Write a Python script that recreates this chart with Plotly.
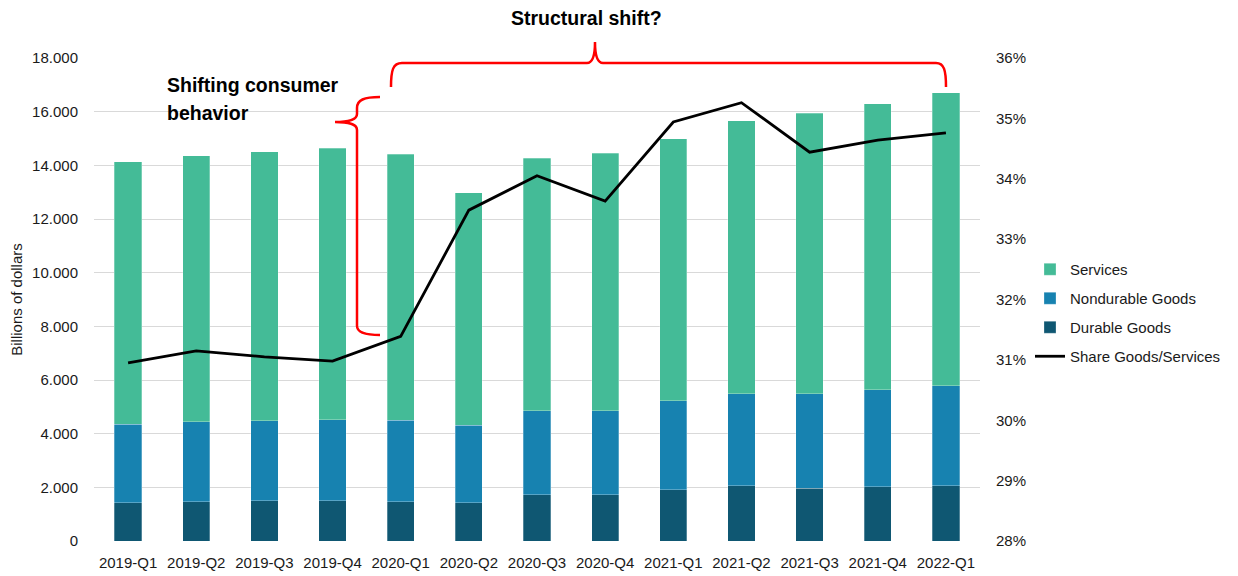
import plotly.graph_objects as go

categories = ["2019-Q1", "2019-Q2", "2019-Q3", "2019-Q4", "2020-Q1", "2020-Q2", "2020-Q3",
              "2020-Q4", "2021-Q1", "2021-Q2", "2021-Q3", "2021-Q4", "2022-Q1"]
durable_goods = [1430, 1470, 1500, 1500, 1470, 1430, 1730, 1730, 1910, 2060, 1960, 2020, 2060]
nondurable_goods = [2920, 2980, 2980, 3020, 3030, 2890, 3120, 3120, 3310, 3430, 3520, 3610, 3730]
services = [9780, 9900, 10030, 10110, 9920, 8650, 9420, 9600, 9770, 10170, 10470, 10670, 10910]
share_goods_services = [30.95, 31.15, 31.05, 30.98, 31.39, 33.48, 34.05, 33.63, 34.94, 35.26, 34.44, 34.64, 34.76]

left_ticks = [0, 2000, 4000, 6000, 8000, 10000, 12000, 14000, 16000, 18000]
left_ticktext = ["0", "2.000", "4.000", "6.000", "8.000", "10.000", "12.000", "14.000", "16.000", "18.000"]
right_ticks = [28, 29, 30, 31, 32, 33, 34, 35, 36]
right_ticktext = ["28%", "29%", "30%", "31%", "32%", "33%", "34%", "35%", "36%"]

FONT = "Liberation Sans, Arial, sans-serif"
C_SERV = "#44BB97"
C_NOND = "#1782B0"
C_DUR = "#0F5772"
TXT = "#1a1a1a"

W, H = 1238, 576
L, R, T, B = 94, 258, 58, 35
PW, PH = W - L - R, H - T - B


def P(x, y):
    return f"{(x - L) / PW:.5f},{(H - B - y) / PH:.5f}"


fig = go.Figure()
edge = dict(color="rgba(255,255,255,0.35)", width=0.8)
fig.add_trace(go.Bar(x=categories, y=durable_goods, name="Durable Goods", marker=dict(color=C_DUR, line=edge),
                     legendgroup="d", legendrank=3))
fig.add_trace(go.Bar(x=categories, y=nondurable_goods, name="Nondurable Goods", marker=dict(color=C_NOND, line=edge),
                     legendgroup="n", legendrank=2))
fig.add_trace(go.Bar(x=categories, y=services, name="Services", marker=dict(color=C_SERV, line=edge),
                     legendgroup="s", legendrank=1))
fig.add_trace(go.Scatter(x=categories, y=share_goods_services, name="Share Goods/Services", mode="lines",
                         line=dict(color="black", width=2.8), yaxis="y2", legendgroup="z", legendrank=4))

red = dict(color="#FF0000", width=2.5)
h_brace = ("M" + P(391, 87) + " C" + P(391, 70) + " " + P(393, 63) + " " + P(402, 63) +
           " L" + P(587, 63) + " C" + P(592, 63) + " " + P(595, 58) + " " + P(595, 42) +
           " C" + P(595, 58) + " " + P(598, 63) + " " + P(603, 63) +
           " L" + P(936, 63) + " C" + P(944, 63) + " " + P(946, 70) + " " + P(946, 87))
v_brace = ("M" + P(380, 97) + " C" + P(364, 97) + " " + P(357, 100) + " " + P(357, 108) +
           " L" + P(357, 114) + " C" + P(357, 119) + " " + P(352, 122) + " " + P(335, 122) +
           " C" + P(352, 122) + " " + P(357, 125) + " " + P(357, 130) +
           " L" + P(357, 326) + " C" + P(357, 332) + " " + P(364, 335) + " " + P(380, 335))

fig.update_layout(
    width=W, height=H,
    margin=dict(l=L, r=R, t=T, b=B, autoexpand=False),
    paper_bgcolor="white", plot_bgcolor="white",
    barmode="stack", bargap=0.6,
    font=dict(family=FONT, size=15, color=TXT),
    xaxis=dict(type="category", showgrid=False, showline=False, zeroline=False, ticks="", tickangle=0,
               tickfont=dict(size=15, color=TXT), ticklabelstandoff=11),
    yaxis=dict(range=[0, 18000], tickvals=left_ticks, ticktext=left_ticktext, showgrid=True,
               gridcolor="#D9D9D9", gridwidth=1, zeroline=False, showline=False, ticks="",
               tickfont=dict(size=15, color=TXT), ticklabelstandoff=15,
               title=dict(text="Billions of dollars", font=dict(size=15, color=TXT), standoff=5)),
    yaxis2=dict(range=[28, 36], tickvals=right_ticks, ticktext=right_ticktext, overlaying="y", side="right",
                showgrid=False, zeroline=False, showline=False, ticks="",
                tickfont=dict(size=15, color=TXT), ticklabelstandoff=15),
    legend=dict(x=(1030 - L) / PW, xanchor="left", y=(H - B - 253) / PH, yanchor="top",
                traceorder="grouped", tracegroupgap=6.5, font=dict(size=15, color=TXT),
                bgcolor="rgba(0,0,0,0)", borderwidth=0),
    shapes=[
        dict(type="path", xref="paper", yref="paper", path=h_brace, line=red),
        dict(type="path", xref="paper", yref="paper", path=v_brace, line=red),
    ],
    annotations=[
        dict(text="<b>Structural shift?</b>", xref="paper", yref="paper", x=(586 - L) / PW,
             y=(H - B - 18) / PH, xanchor="center", yanchor="middle", showarrow=False,
             font=dict(size=19.5, color="black")),
        dict(text="<b>Shifting consumer</b>", xref="paper", yref="paper", x=(165 - L) / PW,
             y=(H - B - 85) / PH, xanchor="left", yanchor="middle", showarrow=False,
             font=dict(size=19.5, color="black")),
        dict(text="<b>behavior</b>", xref="paper", yref="paper", x=(165 - L) / PW,
             y=(H - B - 113) / PH, xanchor="left", yanchor="middle", showarrow=False,
             font=dict(size=19.5, color="black")),
    ],
)

fig.write_html("out.html", config={"displayModeBar": False},
               post_script="document.body.style.margin='0';document.body.style.overflow='hidden';")
